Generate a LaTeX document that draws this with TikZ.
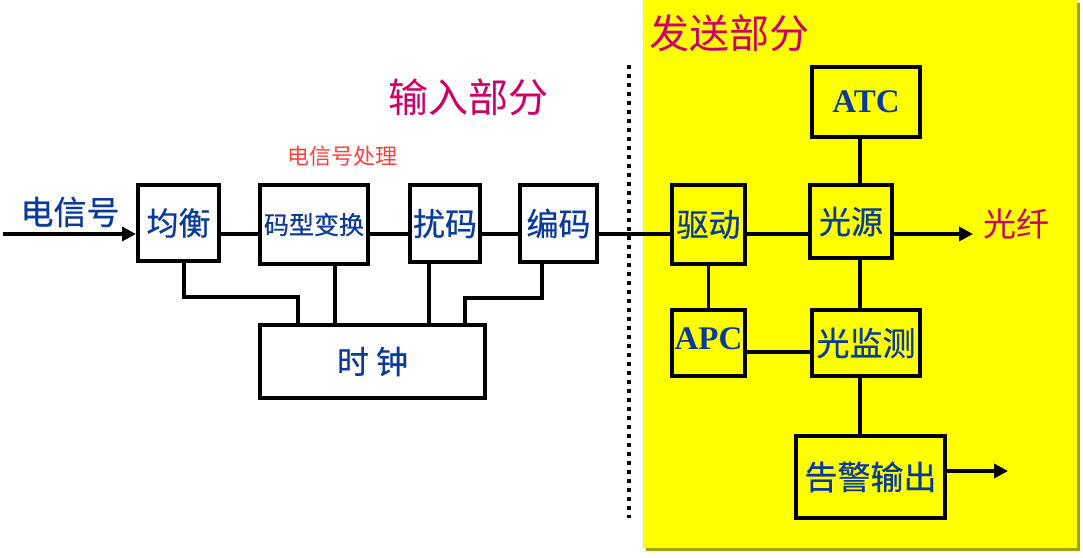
\documentclass[tikz,border=0pt]{standalone}
\usepackage{fontspec}
\usepackage{tikz}
\usetikzlibrary{arrows.meta}
\setmainfont{Liberation Serif}
\newfontfamily\cjk{Noto Sans CJK SC}
\newfontfamily\cjkbox[FakeBold=0.6]{Noto Sans CJK SC}
\definecolor{BoxBlue}{HTML}{0A3A9A}
\definecolor{TitleMagenta}{HTML}{CC0066}
\definecolor{NoteRed}{HTML}{FF4040}
\definecolor{SendYellow}{HTML}{FFFF00}
\definecolor{SendShadow}{HTML}{A3A300}

\begin{document}
\begin{tikzpicture}[x=1pt, y=-1pt,
    blk/.style={draw, line width=4pt, inner sep=0pt, text=BoxBlue, font=\cjkbox\fontsize{32}{32}\selectfont},
    latin/.style={font=\bfseries\fontsize{33}{33}\selectfont},
    ln/.style={line width=3.5pt},
    arr/.style={line width=3.5pt, -{Triangle[length=14pt, width=14pt]}}]
    \useasboundingbox (0,0) rectangle (1083,557);

    % Sending part background
    \fill[SendShadow] (646,3) rectangle (1080,551);
    \fill[SendYellow] (643,0) rectangle (1077,548);
    \draw[line width=4pt, dash pattern=on 4pt off 5pt] (629,65) -- (629,518);

    % Titles
    \node[font=\cjk\fontsize{40}{40}\selectfont, text=TitleMagenta] (intitle) at (468,97) {输入部分};
    \node[font=\cjk\fontsize{40}{40}\selectfont, text=TitleMagenta] (sendtitle) at (729,33) {发送部分};
    \node[font=\cjk\fontsize{22}{22}\selectfont, text=NoteRed] (proc) at (342,156) {电信号处理};
    \node[font=\cjkbox\fontsize{33}{33}\selectfont, text=BoxBlue] (elec) at (70,212) {电信号};
    \node[font=\cjk\fontsize{33}{33}\selectfont, text=TitleMagenta] (fiber) at (1016,224) {光纤};

    % Input part
    \node[blk, minimum width=81pt, minimum height=76pt] (eq) at (178.5,223) {均衡};
    \node[blk, minimum width=108pt, minimum height=79pt, font=\cjkbox\fontsize{25}{25}\selectfont] (conv) at (314,224.5) {码型变换};
    \node[blk, minimum width=70pt, minimum height=77pt] (scr) at (445,223.5) {扰码};
    \node[blk, minimum width=77pt, minimum height=77pt] (enc) at (558.5,223.5) {编码};
    \node[blk, minimum width=225pt, minimum height=73pt] (clk) at (372.5,361.5) {时 钟};

    % Sending part
    \node[blk, minimum width=73pt, minimum height=79pt] (drv) at (708.5,224.5) {驱动};
    \node[blk, minimum width=82pt, minimum height=73pt] (src) at (851,221.5) {光源};
    \node[blk, latin, minimum width=108pt, minimum height=70pt] (atc) at (866,102) {ATC};
    \node[blk, latin, minimum width=73pt, minimum height=66pt] (apc) at (708.5,343) {\raisebox{9pt}{APC}};
    \node[blk, minimum width=108pt, minimum height=66pt, font=\cjkbox\fontsize{33}{33}\selectfont] (mon) at (866,343) {光监测};
    \node[blk, minimum width=149pt, minimum height=82pt, font=\cjkbox\fontsize{33}{33}\selectfont] (alm) at (870.5,477) {告警输出};

    \coordinate (sig) at (3,234);
    \coordinate (lightout) at (973,234);
    \coordinate (almout) at (1008,471);

    % Signal path
    \draw[arr] (sig) -- (eq.west |- sig);
    \draw[ln] (eq.east |- sig) -- (conv.west |- sig);
    \draw[ln] (conv.east |- sig) -- (scr.west |- sig);
    \draw[ln] (scr.east |- sig) -- (enc.west |- sig);
    \draw[ln] (enc.east |- sig) -- (drv.west |- sig);
    \draw[ln] (drv.east |- sig) -- (src.west |- sig);
    \draw[arr] (src.east |- sig) -- (lightout);

    % Clock lines
    \draw[ln] ([xshift=5.5pt]eq.south) -- ++(0,34) -| ([xshift=-74.5pt]clk.north);
    \draw[ln] ([xshift=21pt]conv.south) -- ([xshift=-37.5pt]clk.north);
    \draw[ln] ([xshift=-16pt]scr.south) -- ([xshift=56.5pt]clk.north);
    \draw[ln] ([xshift=-16.5pt]enc.south) -- ++(0,34) -| ([xshift=92.5pt]clk.north);

    % Control loop
    \draw[ln] (drv) -- (apc);
    \draw[ln] ([yshift=-9pt]apc.east) -- ([yshift=-9pt]mon.west);
    \draw[ln] ([xshift=-6pt]atc.south) -- ([xshift=9pt]src.north);
    \draw[ln] ([xshift=9pt]src.south) -- ([xshift=-6pt]mon.north);
    \draw[ln] ([xshift=-6pt]mon.south) -- ([xshift=-10.5pt]alm.north);
    \draw[arr] ([yshift=6pt]alm.east) -- (almout);
\end{tikzpicture}
\end{document}
